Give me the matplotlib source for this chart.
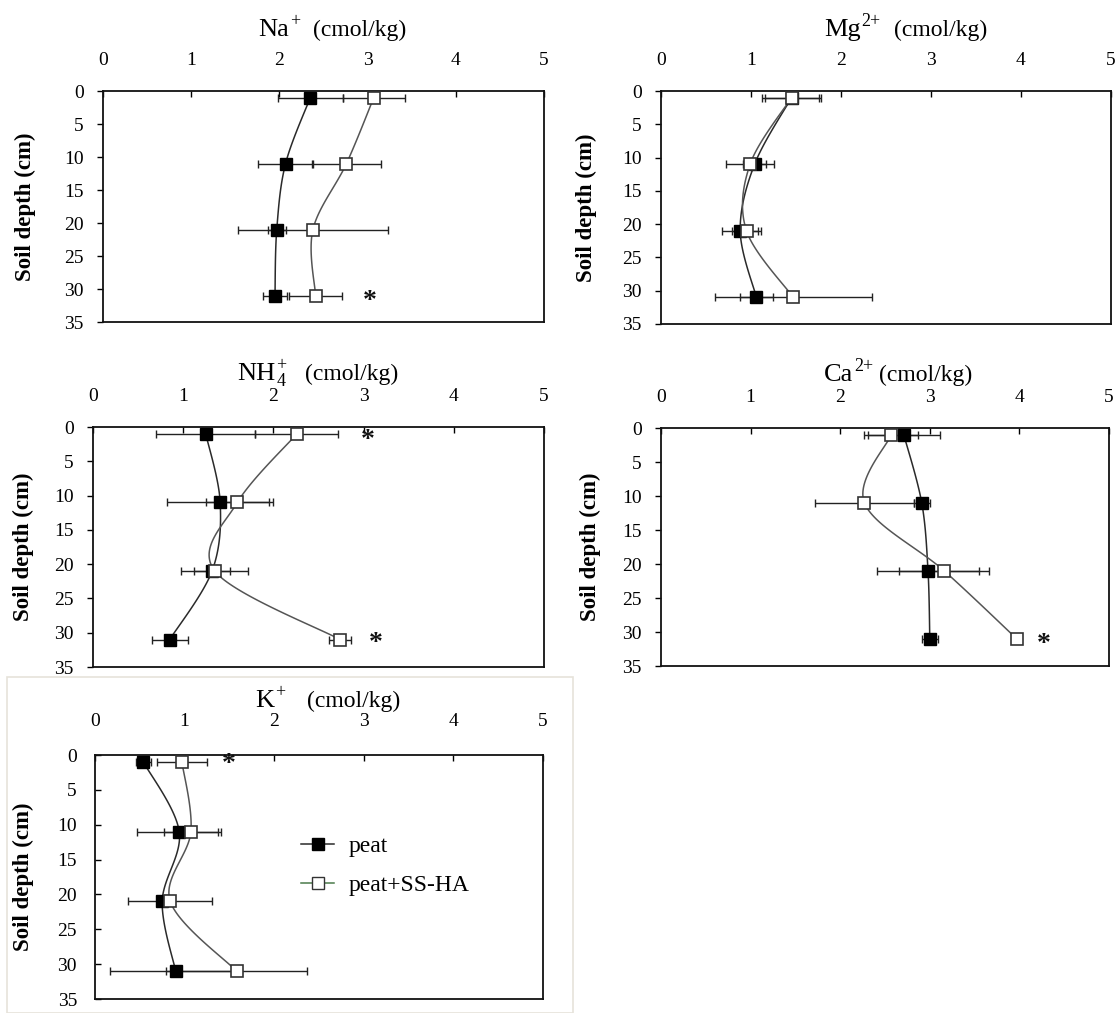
import numpy as np
import matplotlib
matplotlib.use("Agg")
import matplotlib.pyplot as plt
from matplotlib.patches import Rectangle
from matplotlib.lines import Line2D

plt.rcParams['font.family'] = ['Liberation Serif', 'DejaVu Serif']

# ---------------- data ----------------
depth = [1, 11, 21, 31]
x_ticks = [0, 1, 2, 3, 4, 5]
y_ticks = [0, 5, 10, 15, 20, 25, 30, 35]
series_labels = ["peat", "peat+SS-HA"]
ylabel = "Soil depth (cm)"
unit = "(cmol/kg)"

na_peat = [2.35, 2.07, 1.97, 1.95]
na_peat_err = [0.37, 0.31, 0.10, 0.14]
na_ha = [3.07, 2.76, 2.38, 2.41]
na_ha_err = [0.35, 0.39, 0.85, 0.30]
na_stars = [(3.02, 31.0)]

mg_peat = [1.45, 1.04, 0.88, 1.06]
mg_peat_err = [0.30, 0.13, 0.20, 0.18]
mg_ha = [1.45, 0.99, 0.95, 1.47]
mg_ha_err = [0.33, 0.27, 0.16, 0.87]
mg_stars = []

nh4_peat = [1.25, 1.41, 1.32, 0.85]
nh4_peat_err = [0.55, 0.59, 0.20, 0.20]
nh4_ha = [2.26, 1.60, 1.35, 2.74]
nh4_ha_err = [0.46, 0.35, 0.37, 0.12]
nh4_stars = [(3.05, 1.2), (3.13, 30.8)]

ca_peat = [2.71, 2.91, 2.98, 3.00]
ca_peat_err = [0.40, 0.09, 0.57, 0.09]
ca_ha = [2.57, 2.27, 3.16, 3.97]
ca_ha_err = [0.30, 0.55, 0.50, 0.04]
ca_stars = [(4.27, 31.0)]

k_peat = [0.54, 0.94, 0.75, 0.90]
k_peat_err = [0.08, 0.47, 0.05, 0.73]
k_ha = [0.97, 1.07, 0.84, 1.58]
k_ha_err = [0.28, 0.30, 0.47, 0.79]
k_stars = [(1.49, 0.6)]

# ---------------- layout ----------------
W, H = 1115, 1013
fig = plt.figure(figsize=(W / 100, H / 100), dpi=100)
fig.canvas.draw()
renderer = fig.canvas.get_renderer()


def rect(l, t, r, b):
    return [l / W, 1 - b / H, (r - l) / W, (b - t) / H]


def smooth(xs, ys, kx, ky, n=40):
    """Catmull-Rom style smoothing (like spreadsheet smoothed lines)."""
    P = np.column_stack([np.asarray(xs, float) * kx, np.asarray(ys, float) * ky])
    P = np.vstack([P[0], P, P[-1]])
    out = []
    t = np.linspace(0, 1, n)[:, None]
    for i in range(1, len(P) - 2):
        p0, p1, p2, p3 = P[i - 1], P[i], P[i + 1], P[i + 2]
        seg = 0.5 * (2 * p1 + (-p0 + p2) * t + (2 * p0 - 5 * p1 + 4 * p2 - p3) * t ** 2
                     + (-p0 + 3 * p1 - 3 * p2 + p3) * t ** 3)
        out.append(seg if i == 1 else seg[1:])
    S = np.vstack(out)
    return S[:, 0] / kx, S[:, 1] / ky


def panel(box, peat, peat_err, ha, ha_err, stars, ylab_x, yin=False, xpad=16, ypad=10):
    ax = fig.add_axes(rect(*box))
    wpx = box[2] - box[0]
    hpx = box[3] - box[1]
    kx, ky = wpx / 5.0, hpx / 35.0
    sx, sy = smooth(peat, depth, kx, ky)
    ax.plot(sx, sy, color='#2a2a2a', lw=1.1, zorder=1)
    sx, sy = smooth(ha, depth, kx, ky)
    ax.plot(sx, sy, color='#555555', lw=1.1, zorder=1)
    ax.errorbar(peat, depth, xerr=peat_err, fmt='none', ecolor='#222222', elinewidth=1.0,
                capsize=3, capthick=1.0, zorder=2)
    ax.errorbar(ha, depth, xerr=ha_err, fmt='none', ecolor='#222222', elinewidth=1.0,
                capsize=3, capthick=1.0, zorder=2)
    ax.plot(peat, depth, ls='none', marker='s', ms=9, mfc='black', mec='black', mew=1.0,
            zorder=3)
    ax.plot(ha, depth, ls='none', marker='s', ms=9, mfc='white', mec='#333333', mew=1.2,
            zorder=4)
    for (sxp, syp) in stars:
        ax.annotate('*', (sxp, syp), xytext=(0, -4), textcoords='offset points',
                    ha='center', va='center', fontsize=20, fontweight='bold',
                    color='#111111', zorder=5)
    ax.set_xlim(0, 5)
    ax.set_ylim(35, 0)
    ax.xaxis.tick_top()
    ax.set_xticks(x_ticks)
    ax.set_yticks(y_ticks)
    ax.tick_params(axis='x', direction='in', length=4, width=1, pad=xpad, labelsize=14,
                   top=True, bottom=False, labeltop=True, labelbottom=False)
    ax.tick_params(axis='y', direction='in' if yin else 'out', length=4, width=1,
                   pad=ypad, labelsize=14)
    for s in ax.spines.values():
        s.set_linewidth(1.3)
        s.set_color('#111111')
    ax.set_ylabel(ylabel, fontsize=16.5, fontweight='bold')
    ax.yaxis.set_label_coords(ylab_x, 0.5)
    return ax


def title(main, sub, sup, xi, xu, yb):
    """Ion name with hand-placed sub/superscripts, then the unit text."""
    y = 1 - yb / H
    t = fig.text(xi / W, y, main, fontsize=19, ha='left', va='baseline')
    bb = t.get_window_extent(renderer)
    xr = bb.x1 + 1
    xs = xr
    if sub:
        ts = fig.text(xr / W, y - 6 / H, sub, fontsize=13, ha='left', va='baseline')
        xs = xr
    if sup:
        fig.text(xs / W, y + 10 / H, sup, fontsize=13, ha='left', va='baseline')
    fig.text(xu / W, y, unit, fontsize=17, ha='left', va='baseline')


# light frame around the K+ panel
fig.patches.append(Rectangle((7 / W, 0), (573 - 7) / W, 1 - 677 / H, transform=fig.transFigure,
                             fill=False, edgecolor='#e6e3da', lw=1.2))

panel((103, 91, 544, 322), na_peat, na_peat_err, na_ha, na_ha_err, na_stars, -0.152)
panel((661, 91, 1111, 324), mg_peat, mg_peat_err, mg_ha, mg_ha_err, mg_stars, -0.142)
panel((93, 427, 544, 667), nh4_peat, nh4_peat_err, nh4_ha, nh4_ha_err, nh4_stars, -0.131)
panel((661, 428, 1109, 666), ca_peat, ca_peat_err, ca_ha, ca_ha_err, ca_stars, -0.134)
axk = panel((95, 755, 543, 999), k_peat, k_peat_err, k_ha, k_ha_err, k_stars, -0.137,
            yin=True, xpad=18, ypad=13)

title("Na", None, "+", 258, 313, 36)
title("Mg", None, "2+", 824, 894, 36)
title("NH", "4", "+", 237, 305, 380)
title("Ca", None, "2+", 824, 879, 381)
title("K", None, "+", 255, 307, 707)

# legend (line + marker handles)
h1 = Line2D([], [], color='#2a2a2a', lw=1.1, marker='s', ms=8, mfc='black', mec='black')
h2 = Line2D([], [], color='#4a7a4a', lw=1.1, marker='s', ms=8, mfc='white', mec='#333333')
axk.legend([h1, h2], series_labels, loc='upper left', bbox_to_anchor=(0.46, 0.67),
           frameon=False, fontsize=17, handlelength=1.4, handletextpad=0.6,
           labelspacing=0.75, borderpad=0, borderaxespad=0)

fig.savefig("out.png", dpi=100)
